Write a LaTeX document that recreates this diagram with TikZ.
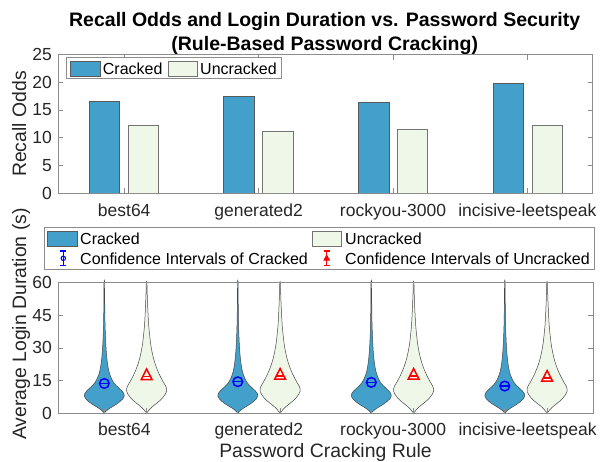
\documentclass[tikz,border=0pt]{standalone}
\usepackage{fontspec}
\setmainfont{Liberation Sans}
\definecolor{crk}{RGB}{66,160,202}
\definecolor{unc}{RGB}{239,247,232}
\definecolor{txt}{RGB}{38,38,38}
\definecolor{axc}{RGB}{140,140,140}
\definecolor{vln}{RGB}{70,70,70}
\begin{document}
\begin{tikzpicture}[x=1pt,y=-1pt,
  axis/.style={draw=axc, line width=0.7pt},
  ticklbl/.style={font=\fontsize{17.5}{21}\selectfont, text=txt, inner sep=0pt},
  axlbl/.style={font=\fontsize{19.4}{23}\selectfont, text=txt, inner sep=0pt},
  leglbl/.style={font=\fontsize{16}{19}\selectfont, text=black, inner sep=0pt, anchor=west},
  ttl/.style={font=\bfseries\fontsize{19.5}{23}\selectfont, text=black, inner sep=0pt, anchor=base},
  crbar/.style={fill=crk, draw=black!65, line width=0.6pt},
  ucbar/.style={fill=unc, draw=black!55, line width=0.6pt},
  legbox/.style={draw=axc, fill=white, line width=0.7pt},
  ci/.style={line width=1.5pt, line cap=butt}]
\useasboundingbox (0,0) rectangle (600,461);

% ---------- title ----------
\node[ttl] (t1) at (324.7,26) {Recall Odds and Login Duration vs. Password Security};
\node[ttl] (t2) at (324.7,50.7) {(Rule-Based Password Cracking)};

% ---------- top axes ----------
\def\tz{193}\def\tu{5.532}
\foreach \i/\c/\u in {0/16.5/12.3, 1/17.4/11.1, 2/16.4/11.5, 3/19.75/12.2}{
  \pgfmathsetmacro\xc{104.2+134.7*\i}
  \pgfmathsetmacro\xu{143.0+134.7*\i}
  \draw[crbar] ({\xc-15.2},\tz) rectangle ({\xc+15.2},{\tz-\tu*\c});
  \draw[ucbar] ({\xu-15.2},\tz) rectangle ({\xu+15.2},{\tz-\tu*\u});
}
\draw[axis] (58.3,54.7) rectangle (592.7,193);
\foreach \v in {0,5,...,25}{
  \pgfmathsetmacro\yy{\tz-\tu*\v}
  \draw[axis] (58.3,\yy) -- (63.3,\yy);
  \draw[axis] (592.7,\yy) -- (587.7,\yy);
  \node[ticklbl, anchor=east] (ty\v) at (52,\yy) {\v};
}
\foreach \i/\lab in {0/best64, 1/generated2, 2/rockyou-3000, 3/incisive-leetspeak}{
  \pgfmathsetmacro\xx{124.2+134.4*\i}
  \draw[axis] (\xx,54.7) -- (\xx,59.7);
  \draw[axis] (\xx,193) -- (\xx,188);
  \node[ticklbl, anchor=base] (tx\i) at (\xx,216) {\lab};
}
\node[axlbl, rotate=90, anchor=base] (ylab1) at (26,124) {Recall Odds};

% top legend
\draw[legbox] (66.7,57.3) rectangle (281.7,78.3);
\draw[crbar] (70,61.7) rectangle (100,76);
\node[leglbl] (lc1) at (102.7,68.9) {Cracked};
\draw[ucbar] (168.3,61.7) rectangle (197.7,76);
\node[leglbl] (lu1) at (200,68.9) {Uncracked};

% ---------- bottom legend ----------
\draw[legbox] (44.3,227.7) rectangle (594.7,269.3);
\draw[crbar] (47.7,231.7) rectangle (77.3,246.7);
\node[leglbl] (lc2) at (80,239.2) {Cracked};
\draw[ucbar] (312.3,231.7) rectangle (341.3,246.7);
\node[leglbl] (lu2) at (345,239.2) {Uncracked};
\draw[blue, line width=1.1pt] (63.3,251) -- (63.3,265.6) (60.3,251) -- (66.3,251) (60.3,265.6) -- (66.3,265.6);
\draw[blue, line width=1.1pt] (63.3,258.3) circle (2.2);
\node[leglbl] (lci1) at (80,258.3) {Confidence Intervals of Cracked};
\draw[red, line width=1.1pt] (326.7,251) -- (326.7,265.6) (323.7,251) -- (329.7,251) (323.7,265.6) -- (329.7,265.6);
\draw[red, line width=1pt, fill=red] (326.7,255.3) -- (324.1,260) -- (329.3,260) -- cycle;
\node[leglbl] (lci2) at (345,258.3) {Confidence Intervals of Uncracked};

% ---------- bottom axes ----------
\def\bz{413}\def\bu{2.1717}
\foreach \i in {0,1,2,3}{
  \pgfmathsetmacro\xc{104.3+133.5*\i}
  \pgfmathsetmacro\xu{146.6+133.5*\i}
  \begin{scope}[shift={(\xc,\bz)}, yscale=-\bu]
    \filldraw[fill=crk, draw=vln, line width=0.5pt] plot[smooth, tension=0.55] coordinates {
      (0,0) (1.5,0.7) (4,1.7) (8,2.9) (12,4) (15.5,5.2) (18.5,6.5) (20,7.8) (19.5,9) (17.5,10.2) (14.5,11.5) (11.5,12.8) (9,14.2) (7,16) (5.3,18) (4,20.5) (3,23.5) (2.2,27) (1.6,31) (1.1,36) (0.7,42) (0.45,50) (0.3,60)
      (-0.3,60) (-0.45,50) (-0.7,42) (-1.1,36) (-1.6,31) (-2.2,27) (-3,23.5) (-4,20.5) (-5.3,18) (-7,16) (-9,14.2) (-11.5,12.8) (-14.5,11.5) (-17.5,10.2) (-19.5,9) (-20,7.8) (-18.5,6.5) (-15.5,5.2) (-12,4) (-8,2.9) (-4,1.7) (-1.5,0.7) (0,0)};
  \end{scope}
  \begin{scope}[shift={(\xu,\bz)}, yscale=-\bu]
    \filldraw[fill=unc, draw=vln, line width=0.5pt] plot[smooth, tension=0.55] coordinates {
      (0,0) (1.2,0.6) (3,1.7) (6,3) (9.5,4.3) (13,5.6) (16,7) (18.5,8.5) (20,10) (20,11.2) (19,12.5) (17,14) (15,15.7) (13,17.5) (11,19.6) (9,22) (7,25) (5.3,28.5) (4,32) (3,36) (2,41) (1.2,48) (0.6,55) (0.3,60)
      (-0.3,60) (-0.6,55) (-1.2,48) (-2,41) (-3,36) (-4,32) (-5.3,28.5) (-7,25) (-9,22) (-11,19.6) (-13,17.5) (-15,15.7) (-17,14) (-19,12.5) (-20,11.2) (-20,10) (-18.5,8.5) (-16,7) (-13,5.6) (-9.5,4.3) (-6,3) (-3,1.7) (-1.2,0.6) (0,0)};
  \end{scope}
  \draw[axis] (\xc,282.7) -- (\xc,287.7) (\xu,282.7) -- (\xu,287.7);
  \draw[axis] (\xc,413) -- (\xc,408) (\xu,413) -- (\xu,408);
}
% confidence-interval markers
\foreach \i/\m in {0/13.6, 1/14.4, 2/14.1, 3/12.4}{
  \pgfmathsetmacro\xc{104.3+133.5*\i}
  \pgfmathsetmacro\yy{\bz-\bu*\m}
  \draw[blue, ci] (\xc,\yy) circle (4.8);
  \draw[blue, ci] ({\xc-4.8},\yy) -- ({\xc+4.8},\yy);
}
\foreach \i/\m in {0/17.6, 1/17.8, 2/17.8, 3/16.9}{
  \pgfmathsetmacro\xu{146.6+133.5*\i}
  \pgfmathsetmacro\yy{\bz-\bu*\m}
  \draw[red, ci, line join=miter] (\xu,{\yy-5.8}) -- ({\xu-5.4},{\yy+4.8}) -- ({\xu+5.4},{\yy+4.8}) -- cycle;
  \draw[red, ci] ({\xu-3.8},{\yy+1.6}) -- ({\xu+3.8},{\yy+1.6});
}
\draw[axis] (58.3,282.7) rectangle (593.3,413);
\foreach \v in {0,15,...,60}{
  \pgfmathsetmacro\yy{\bz-\bu*\v}
  \draw[axis] (58.3,\yy) -- (63.3,\yy);
  \draw[axis] (593.3,\yy) -- (588.3,\yy);
  \node[ticklbl, anchor=east] (by\v) at (52,\yy) {\v};
}
\foreach \i/\lab in {0/best64, 1/generated2, 2/rockyou-3000, 3/incisive-leetspeak}{
  \pgfmathsetmacro\xx{124.4+134.4*\i}
  \node[ticklbl, anchor=base] (bx\i) at (\xx,435.3) {\lab};
}
\node[axlbl, anchor=base] (xlab) at (325.5,457.3) {Password Cracking Rule};
\node[axlbl, rotate=90, anchor=base] (ylab2) at (26,324) {Average Login Duration (s)};
\end{tikzpicture}
\end{document}
